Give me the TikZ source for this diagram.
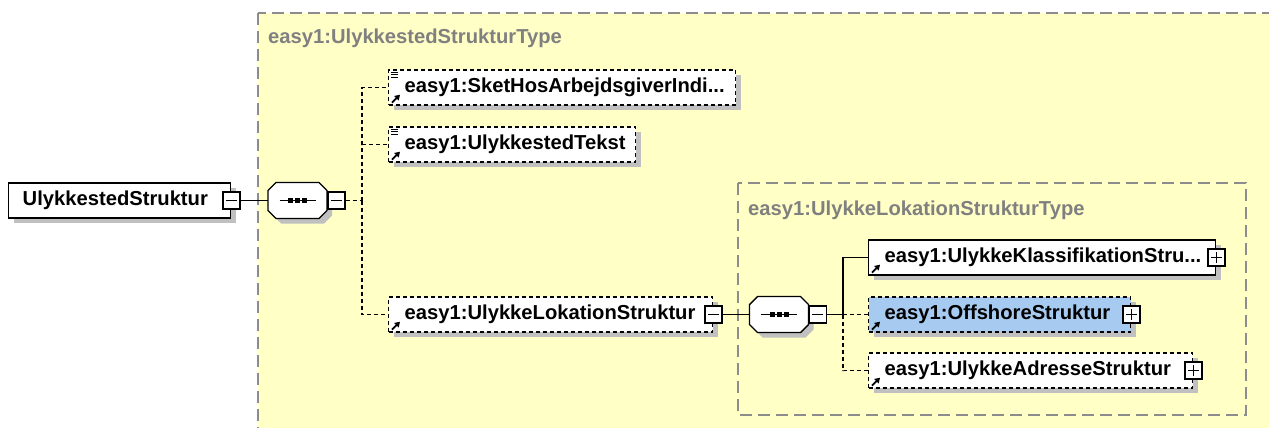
\documentclass[tikz,border=0pt]{standalone}
\usepackage{fontspec}
\setmainfont{Liberation Sans}
\usetikzlibrary{positioning, arrows.meta, shadows}
\definecolor{bgyellow}{RGB}{255,255,198}
\definecolor{boxgray}{RGB}{140,140,140}
\definecolor{titlegray}{RGB}{128,128,128}
\definecolor{shadowgray}{RGB}{192,192,192}
\definecolor{selblue}{RGB}{166,202,240}

\begin{document}
\begin{tikzpicture}[x=1pt, y=-1pt, font=\fontsize{20.2}{23}\selectfont\bfseries]
    \tikzstyle{typebox} = [draw=boxgray, line width=1.7pt, dash pattern=on 12pt off 6pt, fill=bgyellow]
    \tikzstyle{title} = [anchor=base west, text=titlegray, inner sep=0]
    \tikzstyle{shd} = [drop shadow={shadow xshift=5pt, shadow yshift=-5pt, fill=shadowgray, opacity=1}]
    \tikzstyle{elem} = [rectangle, draw=black, line width=1.4pt, fill=white, anchor=west, minimum height=35pt, inner xsep=16pt, inner ysep=0, align=left, shd]
    \tikzstyle{opt} = [dash pattern=on 4pt off 3pt]
    \tikzstyle{seq} = [rectangle, minimum width=59pt, minimum height=36pt, inner sep=0]
    \tikzstyle{pm} = [rectangle, draw=black, line width=1.4pt, fill=white, minimum size=17pt, inner sep=0]
    \tikzstyle{link} = [line width=1.4pt]

    \useasboundingbox (0,0) rectangle (1269,428);
    \fill[white] (0,0) rectangle (1269,428);
    \clip (0,0) rectangle (1269,428);

    % complex type frames
    \draw[typebox] (258,13) rectangle (1300,460);
    \node (t1) [title] at (268,44) {easy1:UlykkestedStrukturType};
    \draw[typebox] (738,183) rectangle (1246,415);
    \node (t2) [title] at (748,215) {easy1:UlykkeLokationStrukturType};

    % root element
    \node (root) [elem, inner xsep=14pt, text width=194pt] at (8,200.5) {UlykkestedStruktur};

    % sequence compositors
    \foreach \s/\cx/\cy in {seq1/297.5/200.5, seq2/779/314.5} {
        \fill [shadowgray, shift={(5,5)}] (\cx,\cy) ++(-21.5,-18) -- ++(43,0) -- ++(8,8) -- ++(0,20) -- ++(-8,8) -- ++(-43,0) -- ++(-8,-8) -- ++(0,-20) -- cycle;
        \filldraw [link, fill=white] (\cx,\cy) ++(-21.5,-18) -- ++(43,0) -- ++(8,8) -- ++(0,20) -- ++(-8,8) -- ++(-43,0) -- ++(-8,-8) -- ++(0,-20) -- cycle;
        \node (\s) [seq] at (\cx,\cy) {};
        \draw [link] ([xshift=-18pt]\s.center) -- ([xshift=18pt]\s.center);
        \foreach \d in {-7, 0, 7}
            \fill ([shift={(\d pt-2.5pt,-2.5pt)}]\s.center) rectangle +(5,-5);
    }
    \node (rootm) [pm] at (root.east) {};
    \node (seq1m) [pm, anchor=west] at (seq1.east) {};
    \node (seq2m) [pm, anchor=west] at (seq2.east) {};
    \coordinate (bus1) at (362,200.5);
    \coordinate (bus2) at (843,314.5);

    \node (ski) [elem, opt, text width=315pt] at (388,87.5) {easy1:SketHosArbejdsgiverIndi...};
    \node (tek) [elem, opt, text width=215pt] at (388,144.5) {easy1:UlykkestedTekst};
    \node (lok) [elem, opt, text width=292pt] at (388,314.5) {easy1:UlykkeLokationStruktur};
    \node (lokm) [pm] at (lok.east) {};

    \node (kla) [elem, text width=315pt] at (868,257.5) {easy1:UlykkeKlassifikationStru...};
    \node (klap) [pm] at (kla.east) {};
    \node (off) [elem, opt, fill=selblue, text width=230pt] at (868,314.5) {easy1:OffshoreStruktur};
    \node (offp) [pm] at (off.east) {};
    \node (adr) [elem, opt, text width=292pt] at (868,370.5) {easy1:UlykkeAdresseStruktur};
    \node (adrp) [pm] at (adr.east) {};

    % connectors
    \draw [link] (rootm.east) -- (seq1.west);
    \draw [link, opt] (seq1m.east) -- (bus1);
    \draw [link, opt] (bus1) |- (ski.west);
    \draw [link, opt] (bus1) |- (tek.west);
    \draw [link, opt] (bus1) |- (lok.west);
    \draw [link] (lokm.east) -- (seq2.west);
    \draw [link] (seq2m.east) -- (bus2);
    \draw [link] (bus2) |- (kla.west);
    \draw [link, opt] (bus2) -- (off.west);
    \draw [link, opt] (bus2) |- (adr.west);

    % minus and plus signs
    \foreach \b in {rootm, seq1m, lokm, seq2m, klap, offp, adrp}
        \draw [link] ([xshift=-5.5pt]\b.center) -- ([xshift=5.5pt]\b.center);
    \foreach \b in {klap, offp, adrp}
        \draw [link] ([yshift=-5.5pt]\b.center) -- ([yshift=5.5pt]\b.center);

    % simple type and reference icons
    \foreach \n in {ski, tek}
        \foreach \k in {3, 5.5, 8}
            \draw [line width=1pt] ([shift={(3pt,-\k pt)}]\n.north west) -- ++(7,0);
    \foreach \n in {ski, tek, lok, kla, off, adr}
        \draw [line width=1.8pt, -{Triangle[length=5pt, width=6pt]}] ([shift={(4pt,3pt)}]\n.south west) -- ++(8,-8);
\end{tikzpicture}
\end{document}
